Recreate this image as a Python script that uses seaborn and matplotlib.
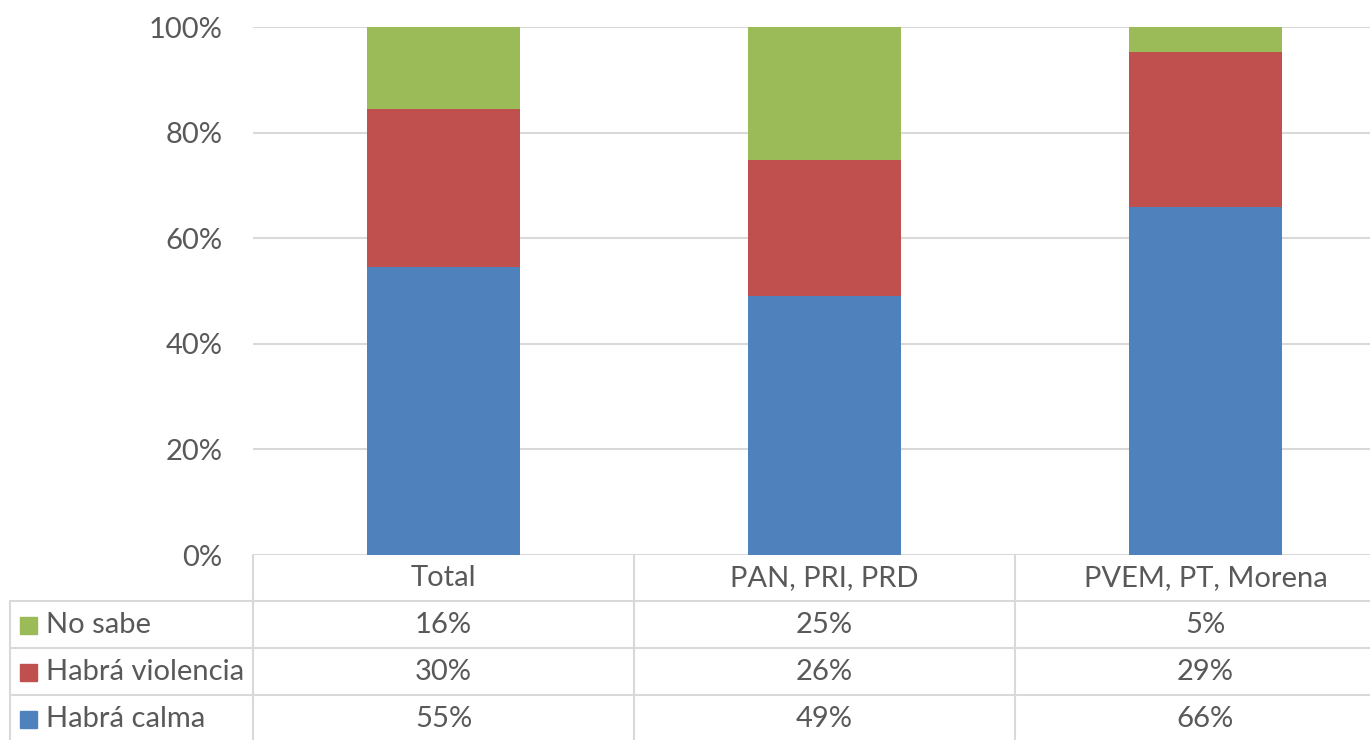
import matplotlib
matplotlib.use("Agg")
import matplotlib.pyplot as plt
from matplotlib.patches import Rectangle
import seaborn as sns
import pandas as pd

# ---- data ----
categories = ["Total", "PAN, PRI, PRD", "PVEM, PT, Morena"]
habra_calma = [54.6, 49.0, 65.9]
habra_violencia = [29.8, 25.9, 29.4]
no_sabe = [15.6, 25.1, 4.7]
series_names = ["No sabe", "Habrá violencia", "Habrá calma"]
yticks = [0, 20, 40, 60, 80, 100]

BLUE, RED, GREEN = "#4F81BD", "#C0504D", "#9BBB59"
TXT = "#595959"
GRID = "#D9D9D9"

sns.set_theme(style="white")
plt.rcParams['font.family'] = ['Lato', 'DejaVu Sans']
FS = 21

W, H = 1370, 740
fig = plt.figure(figsize=(W / 100, H / 100), dpi=100)
colw = 381
left, top, bottom = 253, 27, 555
right = left + 3 * colw
ax = fig.add_axes([left / W, 1 - bottom / H, (right - left) / W, (bottom - top) / H])

df = pd.DataFrame({"cat": categories, "calma": habra_calma,
                   "viol": habra_violencia, "nosabe": no_sabe})
df["c2"] = df["calma"] + df["viol"]
df["c3"] = df["c2"] + df["nosabe"]

for col, c in [("c3", GREEN), ("c2", RED), ("calma", BLUE)]:
    sns.barplot(data=df, x="cat", y=col, color=c, width=0.4, ax=ax,
                saturation=1, linewidth=0, zorder=3)

ax.set_xlim(-0.5, 2.5)
ax.set_ylim(0, 100)
ax.set_yticks(yticks)
ax.set_yticklabels([f"{t}%" for t in yticks], fontsize=FS, color=TXT)
ax.set_xticks([])
ax.set_xlabel("")
ax.set_ylabel("")
ax.tick_params(axis="y", length=0, pad=22)
ax.grid(axis="y", color=GRID, linewidth=1.5, zorder=0)
for s in ax.spines.values():
    s.set_visible(False)

# ---- data table overlay ----
ov = fig.add_axes([0, 0, 1, 1])
ov.set_xlim(0, W)
ov.set_ylim(H, 0)
ov.axis("off")

row_lines = [601, 648, 695]
for y in row_lines:
    ov.plot([10, W + 40], [y, y], color=GRID, lw=1.5, clip_on=False)
ov.plot([10, 10], [601, H + 5], color=GRID, lw=1.5)
for k in range(3):
    x = left + k * colw
    ov.plot([x, x], [bottom, H + 5], color=GRID, lw=1.5)

centers = [left + colw * (k + 0.5) for k in range(3)]
for cx, name in zip(centers, categories):
    ov.text(cx, 578, name, ha="center", va="center", fontsize=FS, color=TXT)

rows = [(series_names[0], no_sabe, GREEN),
        (series_names[1], habra_violencia, RED),
        (series_names[2], habra_calma, BLUE)]
row_y = [625, 672, 719]
for (name, vals, c), y in zip(rows, row_y):
    ov.add_patch(Rectangle((20, y - 8.5), 17, 17, color=c))
    ov.text(46, y, name, ha="left", va="center", fontsize=FS, color=TXT)
    for cx, v in zip(centers, vals):
        ov.text(cx, y, f"{v:.0f}%", ha="center", va="center", fontsize=FS, color=TXT)

fig.savefig("out.png", dpi=100)
